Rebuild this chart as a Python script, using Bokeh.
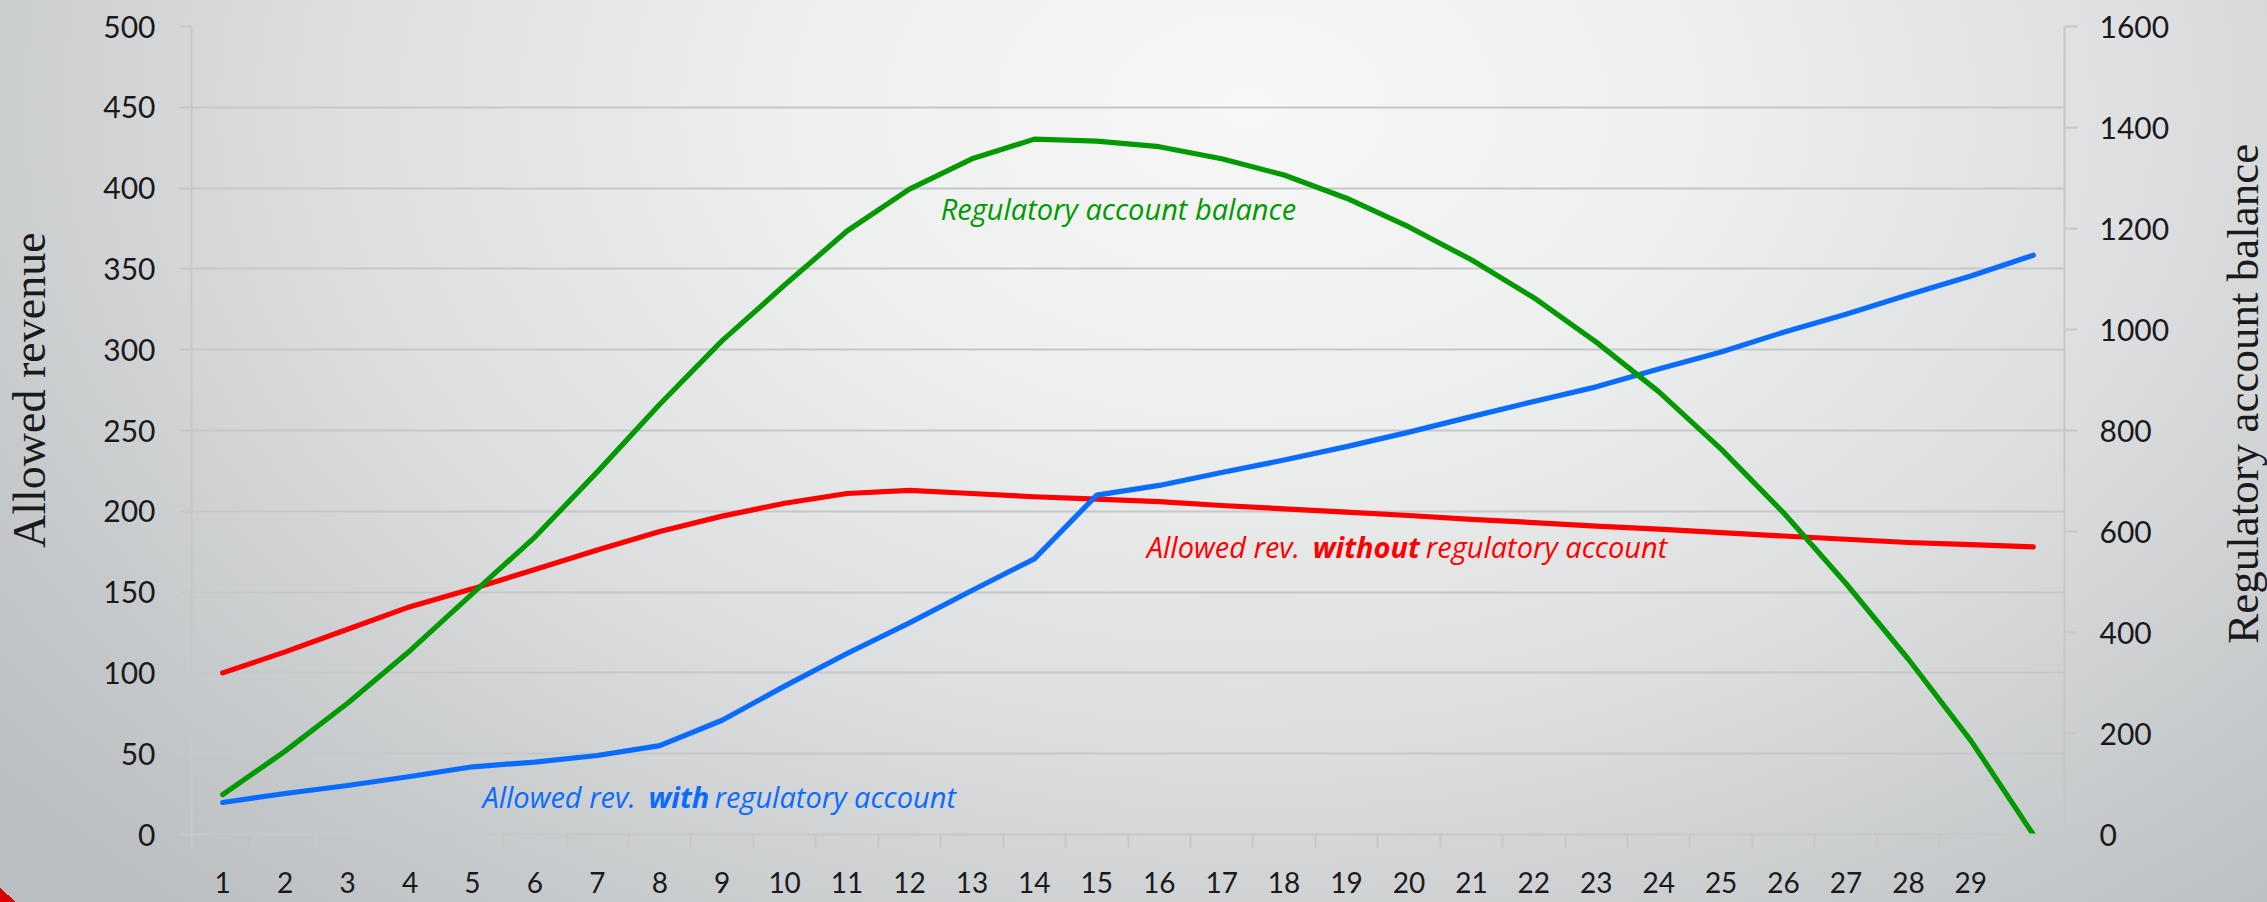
import math
from bokeh.plotting import figure
from bokeh.layouts import row
from bokeh.models import Range1d, LinearAxis, FixedTicker, Label, ColumnDataSource
from bokeh.embed import file_html
from bokeh.resources import INLINE

# ---------------- data ----------------
periods = [1, 2, 3, 4, 5, 6, 7, 8, 9, 10, 11, 12, 13, 14, 15,
           16, 17, 18, 19, 20, 21, 22, 23, 24, 25, 26, 27, 28, 29, 30]
x_tick_labels = ["1", "2", "3", "4", "5", "6", "7", "8", "9", "10", "11", "12", "13", "14", "15",
                 "16", "17", "18", "19", "20", "21", "22", "23", "24", "25", "26", "27", "28", "29"]
rev_without = [100, 113, 127, 141, 152, 164, 176, 187.5, 197, 205, 211, 213, 211, 209, 207.5,
               206, 203.6, 201.5, 199.5, 197.4, 195, 193, 190.8, 189, 186.8, 184.7, 182.7, 180.7, 179.4, 178]
rev_with = [19.8, 25.4, 30.3, 35.9, 41.9, 44.8, 48.9, 55, 70.7, 91.8, 112, 131, 151, 170.6, 210,
            216, 224, 231.7, 240, 249, 258.6, 268, 277, 288, 298.6, 310.8, 322, 334, 345.6, 358.5]
balance = [79, 165, 260, 364, 477, 589, 718, 852, 978, 1088, 1195, 1278, 1338, 1377, 1373,
           1362, 1338, 1306, 1260, 1203, 1138, 1063, 975, 877, 763, 637, 497, 347, 186, 0]
left_ticks = [0, 50, 100, 150, 200, 250, 300, 350, 400, 450, 500]
right_ticks = [0, 200, 400, 600, 800, 1000, 1200, 1400, 1600]
left_title = "Allowed revenue"
right_title = "Regulatory account balance"

GREEN = "#009a00"
RED = "#ff0000"
BLUE = "#0a6cff"
GRID = "#c6c7c8"
TXT = "#1a1a1a"
LABEL_FONT = "Open Sans"
H = 902
W_LEFT = 75
W_RIGHT = 62
W_MAIN = 2267 - W_LEFT - W_RIGHT

bg = ("linear-gradient(to top right, #d80000 50%, rgba(0,0,0,0) 50%) left bottom / 16px 14px no-repeat, "
      "radial-gradient(ellipse 70% 120% at 55% 12%, #f7f7f7 0%, #eeefef 28%, #dcdedf 58%, #c6c9cb 85%, #bcbfc1 100%)")


def blank_fig(width):
    f = figure(width=width, height=H, output_backend="svg", toolbar_location=None,
               x_range=Range1d(0, 1), y_range=Range1d(0, 1),
               x_axis_location=None, y_axis_location=None,
               min_border_left=0, min_border_right=0, min_border_top=0, min_border_bottom=0)
    f.background_fill_alpha = 0
    f.border_fill_alpha = 0
    f.outline_line_color = None
    f.grid.visible = False
    return f


p = figure(width=W_MAIN, height=H, output_backend="svg", toolbar_location=None,
           x_range=Range1d(0.5, 30.5), y_range=Range1d(0, 500),
           min_border_left=191 - W_LEFT, min_border_right=(2267 - W_RIGHT) - 2064,
           min_border_top=26, min_border_bottom=68)
p.background_fill_alpha = 0
p.border_fill_alpha = 0
p.outline_line_color = None
p.extra_y_ranges = {"right": Range1d(0, 1600)}

src = ColumnDataSource(dict(x=periods, rwo=rev_without, rw=rev_with, bal=balance))

# ---------------- axes ----------------
xax = p.xaxis[0]
xax.ticker = FixedTicker(ticks=periods[:len(x_tick_labels)],
                         minor_ticks=[v - 0.5 for v in periods] + [periods[-1] + 0.5])
xax.major_label_overrides = {periods[i]: lab for i, lab in enumerate(x_tick_labels)}
xax.major_tick_out = 0
xax.major_tick_in = 0
xax.minor_tick_out = 13
xax.minor_tick_in = 0
xax.minor_tick_line_color = GRID
xax.minor_tick_line_width = 2
xax.axis_line_color = GRID
xax.axis_line_width = 2
xax.major_label_text_font = "Lato"
xax.major_label_text_font_size = "28px"
xax.major_label_text_color = TXT
xax.major_label_standoff = 24

yax = p.yaxis[0]
yax.ticker = FixedTicker(ticks=left_ticks)
yax.major_tick_out = 12
yax.major_tick_in = 0
yax.minor_tick_out = 0
yax.minor_tick_in = 0
yax.major_tick_line_color = GRID
yax.major_tick_line_width = 2
yax.axis_line_color = GRID
yax.axis_line_width = 2
yax.major_label_text_font = "Lato"
yax.major_label_text_font_size = "30px"
yax.major_label_text_color = TXT
yax.major_label_standoff = 24

rax = LinearAxis(y_range_name="right", ticker=FixedTicker(ticks=right_ticks))
rax.major_tick_out = 13
rax.major_tick_in = 0
rax.minor_tick_out = 0
rax.minor_tick_in = 0
rax.major_tick_line_color = GRID
rax.major_tick_line_width = 2
rax.axis_line_color = GRID
rax.axis_line_width = 2
rax.major_label_text_font = "Lato"
rax.major_label_text_font_size = "30px"
rax.major_label_text_color = TXT
rax.major_label_standoff = 22
p.add_layout(rax, "right")

p.xgrid.visible = False
p.ygrid.grid_line_color = GRID
p.ygrid.grid_line_width = 2

# ---------------- lines ----------------
p.line("x", "rwo", source=src, color=RED, line_width=5.2, line_join="round", line_cap="round")
p.line("x", "rw", source=src, color=BLUE, line_width=5.2, line_join="round", line_cap="round")
p.line("x", "bal", source=src, color=GREEN, line_width=5.2, line_join="round", line_cap="round",
       y_range_name="right")

# ---------------- in-plot labels ----------------
def seg(text, x, y, off, color, style="italic"):
    p.add_layout(Label(x=x, y=y, x_offset=off, text=text, text_color=color,
                       text_font=LABEL_FONT, text_font_style=style, text_font_size="29px",
                       text_align="left", text_baseline="alphabetic"))

seg("Regulatory account balance", 12.5, 387.6, 0, GREEN)

seg("Allowed rev.", 15.8, 178.4, 0, RED)
seg("without", 15.8, 178.4, 166, RED, "bold italic")
seg("regulatory account", 15.8, 178.4, 279, RED)

seg("Allowed rev.", 5.16, 23.7, 0, BLUE)
seg("with", 5.16, 23.7, 166, BLUE, "bold italic")
seg("regulatory account", 5.16, 23.7, 232, BLUE)

# ---------------- axis titles (separate narrow panels, reading bottom to top) ----------------
lf = blank_fig(W_LEFT)
lf.add_layout(Label(x=29 / W_LEFT, y=(H - 406) / H, text=left_title, angle=math.pi / 2,
                    text_color=TXT, text_font="Liberation Serif", text_font_size="46px",
                    text_align="center", text_baseline="middle"))
rf = blank_fig(W_RIGHT)
rf.add_layout(Label(x=(2242 - (2267 - W_RIGHT)) / W_RIGHT, y=(H - 410) / H, text=right_title,
                    angle=math.pi / 2, text_color=TXT, text_font="Liberation Serif",
                    text_font_size="45px", text_align="center", text_baseline="middle"))

layout = row(lf, p, rf, spacing=0, styles={"background": bg})

open("out.html", "w").write(file_html(layout, INLINE))
